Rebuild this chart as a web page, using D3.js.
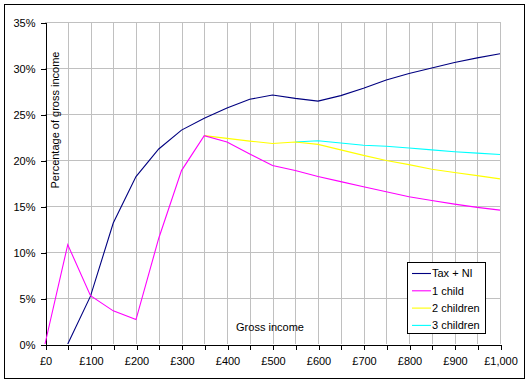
<!DOCTYPE html>
<html>
<head>
<meta charset="utf-8">
<script src="https://cdn.jsdelivr.net/npm/d3@7"></script>
<style>
  body { margin: 0; background: #fff; }
  svg { display: block; font-family: "Liberation Sans", Arial, sans-serif; }
  .axis text { font-size: 11px; fill: #000; }
  .axis path, .axis line { stroke: #000; shape-rendering: crispEdges; }
</style>
</head>
<body>
<svg id="svg" width="531" height="384"></svg>
<script>
// gross income, £ per week
const incomes = [0, 50, 100, 150, 200, 250, 300, 350, 400, 450, 500,
                 550, 600, 650, 700, 750, 800, 850, 900, 950, 1000];

// percentage of gross income (null = not plotted)
const taxNI = [null, 0, 5.2, 13.15, 18.2, 21.2, 23.25, 24.55, 25.65, 26.6, 27.07,
               26.7, 26.4, 27.0, 27.8, 28.7, 29.4, 30.0, 30.6, 31.1, 31.55];
const oneChild = [0, 10.8, 5.25, 3.6, 2.65, 11.5, 18.85, 22.65, 21.95, 20.65, 19.4,
                  18.85, 18.2, 17.65, 17.1, 16.55, 16.0, 15.6, 15.2, 14.85, 14.55];
const twoChildren = [null, null, null, null, null, null, null, 22.65, 22.35, 22.05, 21.8,
                     21.95, 21.7, 21.1, 20.5, 19.95, 19.5, 19.0, 18.65, 18.3, 17.95];
const threeChildren = [null, null, null, null, null, null, null, null, null, null, null,
                       21.95, 22.1, 21.85, 21.6, 21.5, 21.3, 21.1, 20.9, 20.75, 20.6];

const yTicks = [0, 5, 10, 15, 20, 25, 30, 35];
const xLabelTicks = [0, 100, 200, 300, 400, 500, 600, 700, 800, 900, 1000];

const seriesNames = ["Tax + NI", "1 child", "2 children", "3 children"];
const seriesColors = ["#000080", "#ff00ff", "#ffff00", "#00ffff"];

class IncomeChart {

  constructor() {
    this.svg = d3.select("svg");
    this.width = +this.svg.attr("width");
    this.height = +this.svg.attr("height");

    this.x = d3.scaleLinear().domain([0, 1000]).range([45, 500]);
    this.y = d3.scaleLinear().domain([0, 35]).range([344, 22]);
  }

  build() {
    const svg = this.svg, x = this.x, y = this.y;

    // outer frame
    svg.append("rect")
      .attr("x", 4.5).attr("y", 4.5)
      .attr("width", 520).attr("height", 374)
      .attr("fill", "#fff")
      .attr("stroke", "#000")
      .attr("shape-rendering", "crispEdges");

    // gridlines
    const grid = svg.append("g")
      .attr("stroke", "#c0c0c0")
      .attr("shape-rendering", "crispEdges");
    grid.selectAll("line.v")
      .data(incomes.slice(1))
      .enter().append("line")
        .attr("class", "v")
        .attr("x1", d => Math.round(x(d)) + 0.5).attr("x2", d => Math.round(x(d)) + 0.5)
        .attr("y1", y(0)).attr("y2", y(35));
    grid.selectAll("line.h")
      .data(yTicks.slice(1))
      .enter().append("line")
        .attr("class", "h")
        .attr("y1", d => Math.round(y(d)) + 0.5).attr("y2", d => Math.round(y(d)) + 0.5)
        .attr("x1", x(0)).attr("x2", x(1000));

    // axes
    svg.append("g")
      .attr("class", "axis")
      .attr("transform", "translate(45.5,0.5)")
      .call(d3.axisLeft(y)
        .tickValues(yTicks)
        .tickSize(5)
        .tickSizeOuter(0)
        .tickPadding(5)
        .tickFormat(d => d + "%"));

    svg.append("g")
      .attr("class", "axis")
      .attr("transform", "translate(0.5," + (y(0) + 0.5) + ")")
      .call(d3.axisBottom(x)
        .tickValues(incomes)
        .tickSize(5)
        .tickSizeOuter(0)
        .tickPadding(8)
        .tickFormat(d => xLabelTicks.includes(d) ? "£" + d3.format(",")(d) : ""));

    // series
    const all = [taxNI, oneChild, twoChildren, threeChildren];
    const drawOrder = [0, 3, 2, 1];
    drawOrder.forEach(i => {
      const pts = incomes.map((inc, j) => [inc, all[i][j]]);
      const line = d3.line()
        .defined(d => d[1] !== null)
        .x(d => x(d[0]))
        .y(d => y(d[1]));
      svg.append("path")
        .datum(pts)
        .attr("fill", "none")
        .attr("stroke", seriesColors[i])
        .attr("stroke-width", 1.1)
        .attr("d", line);
    });

    // axis titles
    svg.append("text")
      .attr("transform", "translate(59,120) rotate(-90)")
      .attr("text-anchor", "middle")
      .attr("font-size", 11)
      .text("Percentage of gross income");

    svg.append("text")
      .attr("x", 270).attr("y", 331)
      .attr("text-anchor", "middle")
      .attr("font-size", 11)
      .text("Gross income");

    // legend
    const legend = svg.append("g");
    legend.append("rect")
      .attr("x", 407.5).attr("y", 262.5)
      .attr("width", 78).attr("height", 71)
      .attr("fill", "#fff").attr("stroke", "#000")
      .attr("shape-rendering", "crispEdges");
    const item = legend.selectAll("g")
      .data(seriesNames)
      .enter().append("g")
        .attr("transform", (d, i) => "translate(0," + (273.5 + i * 17.3) + ")");
    item.append("line")
      .attr("x1", 412).attr("x2", 431)
      .attr("stroke", (d, i) => seriesColors[i])
      .attr("stroke-width", 1.1);
    item.append("text")
      .attr("x", 432).attr("dy", "0.35em")
      .attr("font-size", 11)
      .text(d => d);
  }
}

new IncomeChart().build();
</script>
</body>
</html>
